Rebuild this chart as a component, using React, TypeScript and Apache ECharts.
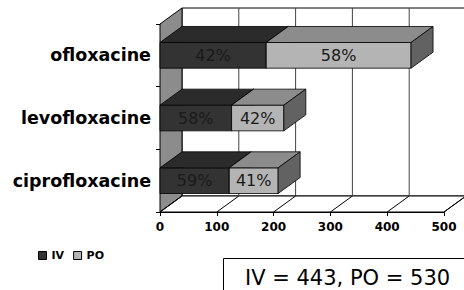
import React, { useEffect, useRef } from "react";
import * as echarts from "echarts";

const categories = ["ciprofloxacine", "levofloxacine", "ofloxacine"];
const ivValues = [122, 126, 187];
const poValues = [86, 92, 255];
const ivLabels = ["59%", "58%", "42%"];
const poLabels = ["41%", "42%", "58%"];
const xTicks = [0, 100, 200, 300, 400, 500];
const seriesNames = ["IV", "PO"];
const noteText = "IV = 443, PO = 530";

const FONT = "DejaVu Sans";
const DX = 22;
const DY = 16;

const ivFront = "#333333";
const ivTop = "#2b2b2b";
const poFront = "#b4b4b4";
const poTop = "#8c8c8c";
const poSide = "#626262";

function barRender(labels: string[], frontCol: string, topCol: string, sideCol: string) {
  return (params: any, api: any) => {
    const start = api.value(0);
    const cat = api.value(1);
    const end = api.value(2);
    const p0 = api.coord([start, cat]);
    const p1 = api.coord([end, cat]);
    const band = api.size([0, 1])[1];
    const h = band * 0.41;
    const x0 = p0[0];
    const x1 = p1[0];
    const yc = p0[1];
    const yT = yc - h / 2;
    const yB = yc + h / 2;
    const stroke = { stroke: "#000", lineWidth: 0.8 };
    return {
      type: "group",
      children: [
        {
          type: "polygon",
          shape: { points: [[x0, yT], [x1, yT], [x1, yB], [x0, yB]] },
          style: { fill: frontCol, ...stroke },
        },
        {
          type: "polygon",
          shape: { points: [[x0, yT], [x0 + DX, yT - DY], [x1 + DX, yT - DY], [x1, yT]] },
          style: { fill: topCol, ...stroke },
        },
        {
          type: "polygon",
          shape: { points: [[x1, yT], [x1 + DX, yT - DY], [x1 + DX, yB - DY], [x1, yB]] },
          style: { fill: sideCol, ...stroke },
        },
        {
          type: "text",
          style: {
            text: labels[params.dataIndex],
            x: (x0 + x1) / 2,
            y: yc,
            align: "center",
            verticalAlign: "middle",
            fill: "#1a1a1a",
            fontSize: 16,
            fontFamily: FONT,
          },
        },
      ],
    };
  };
}

function frameRender(params: any, api: any) {
  const cs = params.coordSys;
  const left = cs.x;
  const top = cs.y;
  const right = cs.x + cs.width;
  const bottom = cs.y + cs.height;
  const children: any[] = [];
  children.push({
    type: "polygon",
    shape: { points: [[left + DX, top - DY], [right + DX, top - DY], [right + DX, bottom - DY], [left + DX, bottom - DY]] },
    style: { fill: "#fff", stroke: "#000", lineWidth: 1 },
  });
  children.push({
    type: "polygon",
    shape: { points: [[left, top], [left + DX, top - DY], [left + DX, bottom - DY], [left, bottom]] },
    style: { fill: "#8c8c8c", stroke: "#000", lineWidth: 1 },
  });
  children.push({
    type: "polygon",
    shape: { points: [[left, bottom], [left + DX, bottom - DY], [right + DX, bottom - DY], [right, bottom]] },
    style: { fill: "#fff", stroke: "#000", lineWidth: 1 },
  });
  xTicks.forEach((v) => {
    const x = api.coord([v, 0])[0];
    if (v > 0) {
      children.push({
        type: "line",
        shape: { x1: x + DX, y1: top - DY, x2: x + DX, y2: bottom - DY },
        style: { stroke: "#444", lineWidth: 1 },
      });
    }
    children.push({
      type: "line",
      shape: { x1: x, y1: bottom, x2: x + DX, y2: bottom - DY },
      style: { stroke: "#000", lineWidth: 1 },
    });
  });
  return { type: "group", children };
}

export default function App() {
  const ref = useRef<HTMLDivElement>(null);
  useEffect(() => {
    if (!ref.current) return;
    const chart = echarts.init(ref.current, null, { renderer: "svg" });
    const ivData = categories.map((_, i) => [0, i, ivValues[i]]);
    const poData = categories.map((_, i) => [ivValues[i], i, ivValues[i] + poValues[i]]);
    chart.setOption({
      animation: false,
      backgroundColor: "#fff",
      grid: { left: 160, right: 20, top: 24, bottom: 78 },
      xAxis: {
        type: "value",
        min: 0,
        max: 500,
        interval: 100,
        axisLine: { show: true, lineStyle: { color: "#000", width: 1 } },
        axisTick: { show: true, length: 4, lineStyle: { color: "#000" } },
        axisLabel: { fontWeight: "bold", fontSize: 12, fontFamily: FONT, color: "#000", margin: 9 },
        splitLine: { show: false },
      },
      yAxis: {
        type: "category",
        data: categories,
        axisLine: { show: true, lineStyle: { color: "#000", width: 1 } },
        axisTick: { show: true, length: 4, lineStyle: { color: "#000" } },
        axisLabel: { fontWeight: "bold", fontSize: 17.5, fontFamily: FONT, color: "#000", margin: 9 },
        splitLine: { show: false },
      },
      legend: {
        data: seriesNames,
        left: 38,
        top: 250,
        padding: 0,
        icon: "rect",
        itemWidth: 8,
        itemHeight: 8,
        itemGap: 9,
        textStyle: { fontWeight: "bold", fontSize: 11, fontFamily: FONT, color: "#000" },
        itemStyle: { borderColor: "#000", borderWidth: 1 },
      },
      series: [
        {
          type: "custom",
          name: "frame",
          renderItem: frameRender,
          data: [[0, 0]],
          encode: { x: 0, y: 1 },
          silent: true,
          z: 1,
        },
        {
          type: "custom",
          name: seriesNames[0],
          renderItem: barRender(ivLabels, ivFront, ivTop, ivFront),
          data: ivData,
          encode: { x: [0, 2], y: 1 },
          itemStyle: { color: ivFront },
          z: 2,
        },
        {
          type: "custom",
          name: seriesNames[1],
          renderItem: barRender(poLabels, poFront, poTop, poSide),
          data: poData,
          encode: { x: [0, 2], y: 1 },
          itemStyle: { color: poFront },
          z: 3,
        },
      ],
      graphic: [
        {
          type: "rect",
          shape: { x: 223.5, y: 258.5, width: 300, height: 60 },
          style: { fill: "#fff", stroke: "#000", lineWidth: 1 },
          z: 10,
        },
        {
          type: "text",
          style: {
            text: noteText,
            x: 245,
            y: 277.5,
            verticalAlign: "middle",
            fontSize: 21,
            fontFamily: FONT,
            fill: "#000",
          },
          z: 11,
        },
      ],
    });
    return () => chart.dispose();
  }, []);
  return (
    <div
      ref={ref}
      style={{ position: "absolute", left: 0, top: 0, width: 464, height: 290 }}
    />
  );
}
